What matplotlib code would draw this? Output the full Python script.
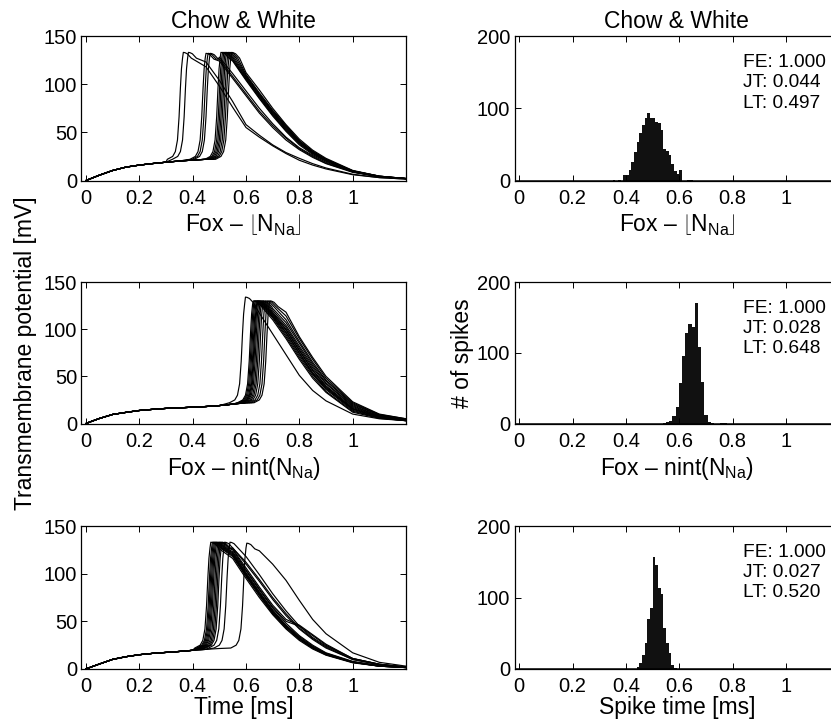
import numpy as np
import matplotlib
matplotlib.use('Agg')
import matplotlib.pyplot as plt

plt.rcParams['font.family'] = ['Liberation Sans', 'DejaVu Sans']
plt.rcParams['mathtext.fontset'] = 'custom'
plt.rcParams['mathtext.rm'] = 'Liberation Sans'
plt.rcParams['mathtext.it'] = 'Liberation Sans:italic'
plt.rcParams['mathtext.bf'] = 'Liberation Sans:bold'

nan = np.nan

# ---- voltage traces (left column) ----
# shape of the upstroke relative to the peak time, shared by all traces
rise_dt = [-0.06, -0.04, -0.03, -0.022, -0.016, -0.011, -0.007, -0.003]
rise_v = [22, 25, 30, 42, 66, 96, 116, 127]
# rounding just after the peak: time after peak, drop below peak
cap_dt = [0.006, 0.015, 0.03]
cap_drop = [0.3, 1.5, 6]
decay_t = [0.45, 0.5, 0.55, 0.6, 0.65, 0.7, 0.75, 0.8, 0.85, 0.9, 1.0, 1.1, 1.2]

base_t = [0, 0.02, 0.05, 0.1, 0.15, 0.2, 0.25, 0.3, 0.35, 0.4, 0.45, 0.5, 0.55, 0.6]

# Fox - floor(N_Na)
top_base = [0, 2.2, 5.5, 10.4, 13.9, 16.0, 17.6, 19.0, 20.2, 21.2, 22.0, 22.8, 23.5, 24]
top_peak_t = [0.365, 0.384, 0.450, 0.458, 0.466, 0.506, 0.512, 0.517, 0.522, 0.527, 0.533, 0.539, 0.546]
top_peak_v = [133, 133, 132, 132, 132, 133, 133, 133, 133, 133, 133, 133, 133]
top_decay = [
    [118, 98, 76, 55, 45, 36, 28, 21, 16, 12, 6, 3, 1.5],
    [123, 104, 82, 58, 47, 37, 29, 23, 17.5, 13, 6.5, 3, 1.5],
    [nan, 124, 106, 88, 70, 55, 42, 32, 24, 17.5, 8.5, 4, 2],
    [nan, 126, 108, 90, 72, 57, 44, 33, 25, 18, 9, 4, 2],
    [nan, 128, 111, 93, 75, 59, 45, 34, 26, 19, 9, 4, 2],
    [nan, nan, 124, 104, 85, 67, 51, 37, 27, 20, 9, 4, 2],
    [nan, nan, 125, 105, 86, 68, 52, 38, 28, 20.5, 9.5, 4, 2],
    [nan, nan, 126, 106, 87, 69, 53, 39, 28.5, 21, 9.5, 4, 2],
    [nan, nan, 127, 107, 88, 70, 54, 39.5, 29, 21, 9.5, 4, 2],
    [nan, nan, nan, 108, 89, 71, 55, 40, 29.5, 21.5, 10, 4.5, 2],
    [nan, nan, nan, 109, 90, 72, 56, 41, 30, 22, 10, 4.5, 2],
    [nan, nan, nan, 110, 91, 73, 57, 41.5, 30.5, 22, 10, 4.5, 2],
    [nan, nan, nan, 112, 94, 75, 58, 43, 31.5, 23, 10.5, 4.5, 2],
]

# Fox - nint(N_Na)
mid_base = [0, 2.2, 5.3, 9.6, 11.8, 13.8, 15.0, 16.0, 16.6, 17.3, 18.0, 19.0, 20.5, 22]
mid_peak_t = [0.598, 0.628, 0.632, 0.636, 0.640, 0.643, 0.646, 0.650, 0.655, 0.660, 0.666, 0.674, 0.682, 0.690]
mid_peak_v = [134, 130, 130, 130, 130, 130, 130, 130, 130, 130, 130, 130, 130, 130]
mid_decay = [
    [nan, nan, nan, nan, 117, 95, 73, 51, 35, 24, 10, 5, 3],
    [nan, nan, nan, nan, nan, 110, 90, 68, 48, 33, 12, 5.5, 3],
    [nan, nan, nan, nan, nan, 112, 92, 70, 50, 34, 13, 6, 3],
    [nan, nan, nan, nan, nan, 113, 94, 72, 52, 36, 14, 6, 3],
    [nan, nan, nan, nan, nan, 114, 96, 74, 53, 37, 15, 6.5, 3],
    [nan, nan, nan, nan, nan, 115, 97, 75, 54, 38, 15.5, 7, 3.5],
    [nan, nan, nan, nan, nan, 116, 99, 77, 56, 39, 16, 7, 3.5],
    [nan, nan, nan, nan, nan, 117, 100, 78, 57, 40, 17, 7.5, 3.5],
    [nan, nan, nan, nan, nan, 118, 102, 80, 59, 42, 18, 8, 4],
    [nan, nan, nan, nan, nan, 120, 104, 82, 61, 43, 19, 8, 4],
    [nan, nan, nan, nan, nan, 122, 107, 85, 63, 45, 20, 9, 4.5],
    [nan, nan, nan, nan, nan, nan, 110, 87, 65, 46, 21, 9, 4.5],
    [nan, nan, nan, nan, nan, nan, 114, 90, 68, 48, 22, 9.5, 5],
    [nan, nan, nan, nan, nan, nan, 118, 92, 70, 50, 23, 10, 5],
]

# Chow & White reference (Time [ms])
bot_base = [0, 2.2, 5.2, 10.1, 12.9, 15.0, 16.4, 17.4, 18.4, 19.6, 20.6, 21.5, 22.5, 23]
bot_peak_t = [0.468, 0.474, 0.478, 0.482, 0.486, 0.490, 0.495, 0.500, 0.505, 0.510, 0.520, 0.540, 0.603]
bot_peak_v = [133, 133, 133, 133, 133, 133, 133, 133, 133, 133, 133, 133, 132]
bot_decay = [
    [nan, 126, 116, 95, 75, 57, 42, 30, 21, 14.5, 6.5, 3, 1.5],
    [nan, 127, 118, 97, 77, 58, 43, 31, 22, 15, 7, 3, 1.5],
    [nan, nan, 119, 98, 78, 59, 44, 32, 22, 15, 7, 3, 1.5],
    [nan, nan, 120, 99, 79, 60, 45, 32, 23, 15.5, 7, 3, 1.5],
    [nan, nan, 121, 100, 80, 61, 45, 33, 23, 16, 7.5, 3, 1.5],
    [nan, nan, 122, 101, 81, 62, 46, 34, 24, 16.5, 7.5, 3.5, 1.5],
    [nan, nan, 123, 103, 83, 64, 48, 35, 25, 17, 8, 3.5, 1.5],
    [nan, nan, 125, 104, 84, 65, 50, 45, 35, 25, 11, 5, 2],
    [nan, nan, 126, 106, 86, 67, 52, 46, 36, 26, 11, 5, 2],
    [nan, nan, 127, 110, 92, 73, 56, 42, 31, 22, 10, 4.5, 2],
    [nan, nan, nan, 112, 94, 75, 58, 43, 32, 23, 10, 4.5, 2],
    [nan, nan, nan, 118, 99, 79, 61, 45, 33, 24, 11, 5, 2],
    [nan, nan, nan, nan, 124, 110, 93, 72, 52, 37, 17, 7, 3],
]

# ---- spike time histograms (right column) ----
top_hist_start, top_hist_w = 0.35, 0.01
top_hist = [1, 0, 1, 0, 7, 8, 15, 26, 39, 53, 66, 77, 86, 93, 87, 86, 81, 80, 70, 43,
            41, 35, 23, 13, 9, 14, 0, 0, 1, 1]
mid_hist_start, mid_hist_w = 0.538, 0.012
mid_hist = [1, 2, 4, 10, 24, 57, 95, 128, 140, 137, 170, 108, 59, 12, 2, 1, 0, 0, 1, 1]
bot_hist_start, bot_hist_w = 0.44, 0.01
bot_hist = [3, 8, 20, 37, 70, 85, 157, 146, 113, 105, 57, 36, 22, 6, 1]

stats = [('1.000', '0.044', '0.497'), ('1.000', '0.028', '0.648'), ('1.000', '0.027', '0.520')]
row_labels = [r'Fox – $\left\lfloor\mathrm{N_{Na}}\right\rfloor$', r'Fox – nint(N$_{\mathrm{Na}}$)']
xticks = [0, 0.2, 0.4, 0.6, 0.8, 1]
xtick_labels = ['0', '0.2', '0.4', '0.6', '0.8', '1']


def build_trace(tp, vp, decay, bv):
    t = [x for x in base_t if x < tp + rise_dt[0]]
    v = list(bv[:len(t)])
    t += [tp + d for d in rise_dt] + [tp] + [tp + d for d in cap_dt]
    v += rise_v + [vp] + [vp - d for d in cap_drop]
    for x, y in zip(decay_t, decay):
        if not np.isnan(y) and x > tp + cap_dt[-1]:
            t.append(x)
            v.append(y)
    return t, v


W, H = 831, 722
fig = plt.figure(figsize=(W / 100, H / 100), dpi=100)


def px_axes(l, t, r, b):
    return fig.add_axes([l / W, 1 - b / H, (r - l) / W, (b - t) / H])


rows = [(36, 180.5), (282, 423.5), (526, 669)]
left_cols = (81.2, 406)
right_cols = (514.5, 839.3)

trace_sets = [(top_base, top_peak_t, top_peak_v, top_decay),
              (mid_base, mid_peak_t, mid_peak_v, mid_decay),
              (bot_base, bot_peak_t, bot_peak_v, bot_decay)]
hists = [(top_hist_start, top_hist_w, top_hist),
         (mid_hist_start, mid_hist_w, mid_hist),
         (bot_hist_start, bot_hist_w, bot_hist)]

fs_tick = 14.5
fs_lab = 16.5


def style(ax):
    ax.set_xlim(-0.018, 1.2)
    ax.set_xticks(xticks)
    ax.set_xticklabels(xtick_labels)
    ax.tick_params(direction='in', top=True, right=True, length=4, width=0.7,
                   labelsize=fs_tick)
    ax.tick_params(axis='x', pad=6)
    ax.tick_params(axis='y', pad=3)
    for s in ax.spines.values():
        s.set_linewidth(0.9)


for i, (top, bot) in enumerate(rows):
    # left: voltage traces
    ax = px_axes(left_cols[0], top, left_cols[1], bot)
    bv, pts, pvs, decs = trace_sets[i]
    for tp, vp, dec in zip(pts, pvs, decs):
        t, v = build_trace(tp, vp, dec, bv)
        ax.plot(t, v, color='k', lw=0.85)
    ax.set_ylim(0, 150)
    ax.set_yticks([0, 50, 100, 150])
    style(ax)
    if i < 2:
        ax.set_xlabel(row_labels[i], fontsize=fs_lab, labelpad=3)
    else:
        ax.set_xlabel('Time [ms]', fontsize=fs_lab, labelpad=0)
    if i == 0:
        ax.set_title('Chow & White', fontsize=fs_lab, pad=6)
    if i == 1:
        ax.set_ylabel('Transmembrane potential [mV]', fontsize=fs_lab, labelpad=5)

    # right: histogram of spike times
    ax2 = px_axes(right_cols[0], top, right_cols[1], bot)
    start, w, counts = hists[i]
    lefts = start + w * np.arange(len(counts))
    ax2.bar(lefts, counts, width=w, align='edge', color='#111111', linewidth=0)
    ax2.axhline(0, color='k', lw=1.8)
    ax2.set_ylim(0, 200)
    ax2.set_yticks([0, 100, 200])
    style(ax2)
    ax2.spines['right'].set_visible(False)
    fe, jt, lt = stats[i]
    ax2.text(0.839, 175, 'FE: %s\nJT: %s\nLT: %s' % (fe, jt, lt), fontsize=13.8,
             va='top', ha='left', linespacing=1.25)
    if i < 2:
        ax2.set_xlabel(row_labels[i], fontsize=fs_lab, labelpad=3)
    else:
        ax2.set_xlabel('Spike time [ms]', fontsize=fs_lab, labelpad=0)
    if i == 0:
        ax2.set_title('Chow & White', fontsize=fs_lab, pad=6)
    if i == 1:
        ax2.set_ylabel('# of spikes', fontsize=fs_lab, labelpad=2)

fig.savefig('out.png', dpi=100)
